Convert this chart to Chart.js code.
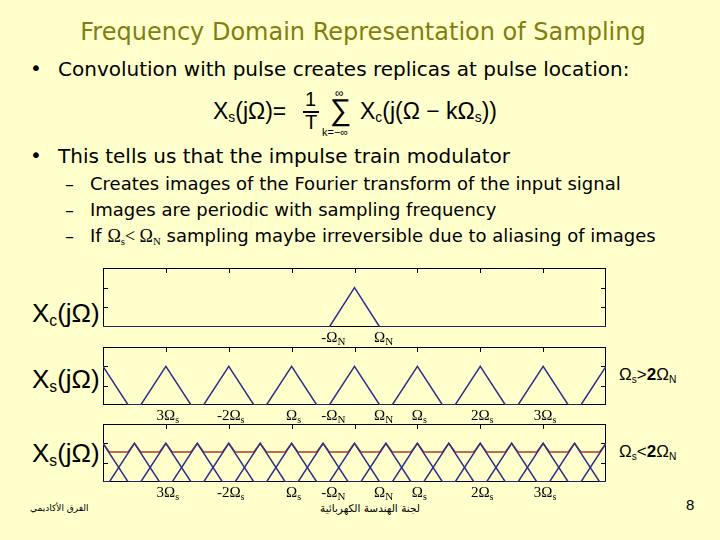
<!DOCTYPE html>
<html>
<head>
<meta charset="utf-8">
<script src="https://cdn.jsdelivr.net/npm/chart.js@4.4.1/dist/chart.umd.min.js"></script>
<style>
  body { margin: 0; background: #ffffcc; }
  #slide { position: relative; width: 720px; height: 540px; background: #ffffcc; overflow: hidden; }
  .t { position: absolute; white-space: nowrap; font-family: 'DejaVu Sans', Verdana, sans-serif; color: #000; }
  .serif { font-family: 'Liberation Serif', 'Times New Roman', serif; }
  .sans { font-family: 'Liberation Sans', Arial, sans-serif; }
  sub { font-size: 60%; vertical-align: -0.25em; line-height: 0; }
  canvas { position: absolute; }
</style>
</head>
<body>
<div id="slide">
  <div class="t" style="left:0; width:726px; text-align:center; top:18px; font-size:24px; color:#7f7f10;">Frequency Domain Representation of Sampling</div>

  <div class="t" style="left:30px; top:56px; font-size:20px;">•</div>
  <div class="t" style="left:58px; top:57px; font-size:20px;">Convolution with pulse creates replicas at pulse location:</div>

  <!-- formula -->
  <div class="t sans" style="left:213px; top:98px; font-size:23px;">X<sub>s</sub>(jΩ)=</div>
  <div class="t sans" style="left:305px; top:88px; font-size:20px;">1</div>
  <div style="position:absolute; left:303px; top:111px; width:16px; height:1.5px; background:#000;"></div>
  <div class="t sans" style="left:305px; top:111px; font-size:20px;">T</div>
  <div class="t sans" style="left:335px; top:86px; font-size:12px;">∞</div>
  <div class="t sans" style="left:330px; top:93px; font-size:30px;">∑</div>
  <div class="t sans" style="left:322px; top:126px; font-size:11px;">k=−∞</div>
  <div class="t sans" style="left:360px; top:98px; font-size:23px;">X<sub>c</sub>(j(Ω − kΩ<sub>s</sub>))</div>

  <div class="t" style="left:30px; top:143px; font-size:20px;">•</div>
  <div class="t" style="left:58px; top:144px; font-size:20px;">This tells us that the impulse train modulator</div>

  <div class="t" style="left:65px; top:173px; font-size:18px;">–</div>
  <div class="t" style="left:90px; top:173px; font-size:18px;">Creates images of the Fourier transform of the input signal</div>
  <div class="t" style="left:65px; top:199px; font-size:18px;">–</div>
  <div class="t" style="left:90px; top:199px; font-size:18px;">Images are periodic with sampling frequency</div>
  <div class="t" style="left:65px; top:225px; font-size:18px;">–</div>
  <div class="t" style="left:90px; top:225px; font-size:18px;">If <span class="serif">Ω<sub>s</sub>&lt; Ω<sub>N</sub></span> sampling maybe irreversible due to aliasing of images</div>

  <div class="t sans" style="left:32px; top:298px; font-size:26px;">X<sub>c</sub>(jΩ)</div>
  <div class="t sans" style="left:32px; top:364px; font-size:26px;">X<sub>s</sub>(jΩ)</div>
  <div class="t sans" style="left:32px; top:438px; font-size:26px;">X<sub>s</sub>(jΩ)</div>

  <div class="t sans" style="left:619px; top:365px; font-size:17px;">Ω<sub>s</sub>&gt;<b>2</b>Ω<sub>N</sub></div>
  <div class="t sans" style="left:619px; top:442px; font-size:17px;">Ω<sub>s</sub>&lt;<b>2</b>Ω<sub>N</sub></div>

  <div class="t" style="left:30px; top:503px; font-size:9px;" dir="rtl">الفرق الأكاديمي</div>
  <div class="t" style="left:320px; top:502px; font-size:10.5px;" dir="rtl">لجنة الهندسة الكهربائية</div>
  <div class="t sans" style="left:686px; top:496px; font-size:15px;">8</div>

  <canvas id="c1" width="530" height="90" style="left:90px; top:262px;"></canvas>
  <canvas id="c2" width="530" height="90" style="left:90px; top:341px;"></canvas>
  <canvas id="c3" width="530" height="90" style="left:90px; top:418px;"></canvas>
</div>

<script>
// spectrum of the input signal (one triangle)
const xcX = [-4, -0.4, 0, 0.4, 4];
const xcY = [0, 0, 2, 0, 0];

// sampled spectrum, Ωs > 2ΩN (replicas do not overlap)
const xsX = [-4, -3.6, -3.4, -3, -2.6, -2.4, -2, -1.6, -1.4, -1, -0.6, -0.4, 0, 0.4, 0.6, 1, 1.4, 1.6, 2, 2.4, 2.6, 3, 3.4, 3.6, 4];
const xsY = [2, 0, 0, 2, 0, 0, 2, 0, 0, 2, 0, 0, 2, 0, 0, 2, 0, 0, 2, 0, 0, 2, 0, 0, 2];

// aliased case: second set of replicas in between
const xaX = [-4, -3.9, -3.5, -3.1, -2.9, -2.5, -2.1, -1.9, -1.5, -1.1, -0.9, -0.5, -0.1, 0.1, 0.5, 0.9, 1.1, 1.5, 1.9, 2.1, 2.5, 2.9, 3.1, 3.5, 3.9, 4];
const xaY = [0, 0, 2, 0, 0, 2, 0, 0, 2, 0, 0, 2, 0, 0, 2, 0, 0, 2, 0, 0, 2, 0, 0, 2, 0, 0];

// overlapped sum (red)
const sumX = [-4, -3.9, -3.6, -3.5, -3.4, -3.1, -3, -2.9, -2.6, -2.5, -2.4, -2.1, -2, -1.9, -1.6, -1.5, -1.4, -1.1, -1, -0.9, -0.6, -0.5, -0.4, -0.1, 0, 0.1, 0.4, 0.5, 0.6, 0.9, 1, 1.1, 1.4, 1.5, 1.6, 1.9, 2, 2.1, 2.4, 2.5, 2.6, 2.9, 3, 3.1, 3.4, 3.5, 3.6, 3.9, 4];
const sumY = [2, 1.55, 1.55, 2, 1.55, 1.55, 2, 1.55, 1.55, 2, 1.55, 1.55, 2, 1.55, 1.55, 2, 1.55, 1.55, 2, 1.55, 1.55, 2, 1.55, 1.55, 2, 1.55, 1.55, 2, 1.55, 1.55, 2, 1.55, 1.55, 2, 1.55, 1.55, 2, 1.55, 1.55, 2, 1.55, 1.55, 2, 1.55, 1.55, 2, 1.55, 1.55, 2];

// tick marks and labels under the axes
const xTicks = [-3, -2, -1, 0, 1, 2, 3];
const yTicks = [1, 2];
const labels1 = { at: [-0.4, 0.4], main: ['-Ω', 'Ω'], sub: ['N', 'N'] };
const labels2 = { at: [-3, -2, -1, -0.4, 0.4, 1, 2, 3], main: ['3Ω', '-2Ω', 'Ω', '-Ω', 'Ω', 'Ω', '2Ω', '3Ω'], sub: ['s', 's', 's', 'N', 'N', 's', 's', 's'] };

const BLUE = '#2f2f8c';
const RED = '#b0382c';

function pts(xs, ys) {
    return xs.map((x, i) => ({ x: x, y: ys[i] }));
}

// box with inward ticks, drawn under the data
const boxPlugin = {
    id: 'box',
    beforeDatasetsDraw(chart) {
        const { ctx, chartArea: a, scales } = chart;
        ctx.save();
        ctx.strokeStyle = '#000';
        ctx.lineWidth = 1;
        ctx.strokeRect(a.left + 0.5, a.top + 0.5, a.right - a.left - 1, a.bottom - a.top - 1);
        ctx.beginPath();
        xTicks.forEach(v => {
            const px = Math.round(scales.x.getPixelForValue(v)) + 0.5;
            ctx.moveTo(px, a.top);
            ctx.lineTo(px, a.top + 5);
        });
        yTicks.forEach(v => {
            const py = Math.round(scales.y.getPixelForValue(v)) + 0.5;
            ctx.moveTo(a.left, py);
            ctx.lineTo(a.left + 5, py);
            ctx.moveTo(a.right, py);
            ctx.lineTo(a.right - 5, py);
        });
        ctx.stroke();
        ctx.restore();
    }
};

// Ω labels with subscripts below the plot
const labelPlugin = {
    id: 'omegaLabels',
    afterDraw(chart, args, opts) {
        const lab = opts.items;
        if (!lab) return;
        const { ctx, chartArea: a, scales } = chart;
        ctx.save();
        ctx.fillStyle = '#000';
        ctx.textBaseline = 'alphabetic';
        lab.at.forEach((v, i) => {
            const px = scales.x.getPixelForValue(v);
            const y = a.bottom + 15;
            ctx.font = '15px "Liberation Serif", "Times New Roman", serif';
            ctx.textAlign = 'center';
            ctx.fillText(lab.main[i], px, y);
            const w = ctx.measureText(lab.main[i]).width;
            ctx.font = (lab.sub[i] === 'N' ? '11px' : '10px') + ' "Liberation Serif", "Times New Roman", serif';
            ctx.textAlign = 'left';
            ctx.fillText(lab.sub[i], px + w / 2, y + 3);
        });
        ctx.restore();
    }
};

function makeChart(id, datasets, items) {
    return new Chart(document.getElementById(id), {
        type: 'line',
        data: { datasets: datasets },
        options: {
            responsive: false,
            animation: false,
            events: [],
            layout: { padding: { left: 13, right: 14, top: 6, bottom: id === 'c1' ? 25 : 26 } },
            scales: {
                x: { type: 'linear', min: -4, max: 4, display: false },
                y: { min: 0, max: 3, display: false }
            },
            elements: {
                point: { radius: 0 },
                line: { tension: 0, borderWidth: 1.5 }
            },
            plugins: {
                legend: { display: false },
                tooltip: { enabled: false },
                omegaLabels: { items: items }
            }
        },
        plugins: [boxPlugin, labelPlugin]
    });
}

makeChart('c1', [
    { data: pts(xcX, xcY), borderColor: BLUE }
], labels1);

makeChart('c2', [
    { data: pts(xsX, xsY), borderColor: BLUE }
], labels2);

makeChart('c3', [
    { data: pts(xsX, xsY), borderColor: BLUE },
    { data: pts(xaX, xaY), borderColor: BLUE },
    { data: pts(sumX, sumY), borderColor: RED }
], labels2);
</script>
</body>
</html>
